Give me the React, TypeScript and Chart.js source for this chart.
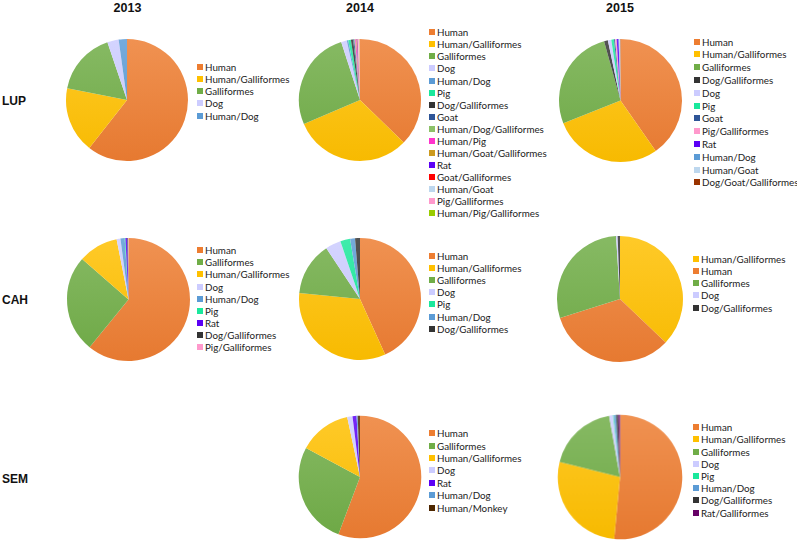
import React, { useEffect, useRef } from "react";
import { Chart, registerables } from "chart.js";

Chart.register(...registerables);

// ---------- colours per category ----------
const CATEGORY_COLORS: Record<string, string> = {
  "Human": "#ED7D31",
  "Human/Galliformes": "#FFC000",
  "Galliformes": "#70AD47",
  "Dog": "#CCCCFF",
  "Human/Dog": "#5B9BD5",
  "Pig": "#1AE89C",
  "Dog/Galliformes": "#333333",
  "Goat": "#2E5597",
  "Human/Dog/Galliformes": "#8CC168",
  "Human/Pig": "#FF33CC",
  "Human/Goat/Galliformes": "#CC9A1E",
  "Rat": "#5B00F5",
  "Goat/Galliformes": "#FF0000",
  "Human/Goat": "#BDD7EE",
  "Pig/Galliformes": "#FF99CC",
  "Human/Pig/Galliformes": "#99CC00",
  "Dog/Goat/Galliformes": "#993300",
  "Human/Monkey": "#4D2600",
  "Rat/Galliformes": "#660066",
};

// ---------- headers ----------
const yearLabels = ["2013", "2014", "2015"];
const siteLabels = ["LUP", "CAH", "SEM"];

// ---------- data ----------
const lup2013Labels = ["Human", "Human/Galliformes", "Galliformes", "Dog", "Human/Dog"];
const lup2013Values = [60.6, 17.5, 16.7, 3.0, 2.2];

const lup2014Labels = [
  "Human", "Human/Galliformes", "Galliformes", "Dog", "Human/Dog", "Pig",
  "Dog/Galliformes", "Goat", "Human/Dog/Galliformes", "Human/Pig",
  "Human/Goat/Galliformes", "Rat", "Goat/Galliformes", "Human/Goat",
  "Pig/Galliformes", "Human/Pig/Galliformes",
];
const lup2014Values = [37.4, 31.4, 26.5, 1.5, 0.4, 0.7, 0.6, 0.3, 0.2, 0.3, 0.15, 0.15, 0.1, 0.1, 0.4, 0.1];

const lup2015Labels = [
  "Human", "Human/Galliformes", "Galliformes", "Dog/Galliformes", "Dog", "Pig",
  "Goat", "Pig/Galliformes", "Rat", "Human/Dog", "Human/Goat", "Dog/Goat/Galliformes",
];
const lup2015Values = [40.3, 28.7, 26.7, 1.0, 0.9, 0.7, 0.3, 0.4, 0.5, 0.2, 0.2, 0.1];

const cah2013Labels = [
  "Human", "Galliformes", "Human/Galliformes", "Dog", "Human/Dog", "Pig", "Rat",
  "Dog/Galliformes", "Pig/Galliformes",
];
const cah2013Values = [60.9, 25.5, 10.5, 1.0, 1.1, 0.2, 0.5, 0.2, 0.1];

const cah2014Labels = ["Human", "Human/Galliformes", "Galliformes", "Dog", "Pig", "Human/Dog", "Dog/Galliformes"];
const cah2014Values = [43.2, 33.3, 14.1, 4.1, 2.6, 1.3, 1.3];

const cah2015Labels = ["Human/Galliformes", "Human", "Galliformes", "Dog", "Dog/Galliformes"];
const cah2015Values = [37.1, 33.0, 28.9, 0.4, 0.6];

const sem2014Labels = ["Human", "Galliformes", "Human/Galliformes", "Dog", "Rat", "Human/Dog", "Human/Monkey"];
const sem2014Values = [55.7, 27.1, 13.8, 1.4, 1.05, 0.3, 0.6];

const sem2015Labels = [
  "Human", "Human/Galliformes", "Galliformes", "Dog", "Pig", "Human/Dog",
  "Dog/Galliformes", "Rat/Galliformes",
];
const sem2015Values = [51.5, 27.4, 18.3, 1.0, 0.2, 0.6, 0.5, 0.5];

// ---------- helpers ----------
function mix(hex: string, target: number, amt: number): string {
  const n = parseInt(hex.slice(1), 16);
  const r = (n >> 16) & 255, g = (n >> 8) & 255, b = n & 255;
  const f = (c: number) => Math.round(c + (target - c) * amt);
  return `rgb(${f(r)},${f(g)},${f(b)})`;
}

type PieProps = {
  labels: string[];
  values: number[];
  cx: number;
  cy: number;
  r: number;
};

function Pie({ labels, values, cx, cy, r }: PieProps) {
  const ref = useRef<HTMLCanvasElement | null>(null);
  const size = 2 * r + 4;
  useEffect(() => {
    if (!ref.current) return;
    const base = labels.map((l) => CATEGORY_COLORS[l] || "#999999");
    const chart = new Chart(ref.current, {
      type: "pie",
      data: {
        labels,
        datasets: [
          {
            data: values,
            backgroundColor: (c: any) => {
              const col = base[c.dataIndex] || "#999";
              const area = c.chart.chartArea;
              if (!area) return col;
              const g = c.chart.ctx.createLinearGradient(0, area.top, 0, area.bottom);
              g.addColorStop(0, mix(col, 255, 0.16));
              g.addColorStop(1, mix(col, 0, 0.03));
              return g;
            },
            borderWidth: 0,
            hoverOffset: 0,
          },
        ],
      },
      options: {
        responsive: false,
        animation: false,
        events: [],
        radius: r,
        layout: { padding: 0 },
        plugins: { legend: { display: false }, tooltip: { enabled: false } },
      } as any,
    });
    return () => chart.destroy();
  }, []);
  return (
    <canvas
      ref={ref}
      width={size}
      height={size}
      style={{ position: "absolute", left: cx - size / 2, top: cy - size / 2, width: size, height: size }}
    />
  );
}

type LegendProps = { labels: string[]; x: number; y0: number; step: number };

function Legend({ labels, x, y0, step }: LegendProps) {
  return (
    <div style={{ position: "absolute", left: x, top: y0 - step / 2 }}>
      {labels.map((l) => (
        <div
          key={l}
          style={{
            height: step,
            display: "flex",
            alignItems: "center",
            whiteSpace: "nowrap",
            fontFamily: "Lato, 'Open Sans', sans-serif",
            fontSize: 9.8,
            color: "#222",
          }}
        >
          <span style={{ width: 6, height: 6, background: CATEGORY_COLORS[l], marginRight: 2, flex: "none" }} />
          <span>{l}</span>
        </div>
      ))}
    </div>
  );
}

const boldText: React.CSSProperties = {
  position: "absolute",
  fontFamily: "'Liberation Sans', Arial, sans-serif",
  fontWeight: "bold",
  color: "#111",
  whiteSpace: "nowrap",
};

export default function App() {
  const colX = [127.5, 360, 620];
  return (
    <div style={{ position: "absolute", left: 0, top: 0, width: 797, height: 541, background: "#fff", overflow: "hidden" }}>
      {yearLabels.map((y, i) => (
        <div key={y} style={{ ...boldText, fontSize: 12.5, lineHeight: "12.5px", top: 2.4, left: colX[i] - 30, width: 60, textAlign: "center" }}>
          {y}
        </div>
      ))}
      {siteLabels.map((s, i) => (
        <div key={s} style={{ ...boldText, fontSize: 12, lineHeight: "12px", left: 2, top: [101, 300, 479][i] - 6.1 }}>
          {s}
        </div>
      ))}

      <Pie labels={lup2013Labels} values={lup2013Values} cx={127} cy={100} r={61} />
      <Legend labels={lup2013Labels} x={197} y0={66.7} step={12.25} />

      <Pie labels={lup2014Labels} values={lup2014Values} cx={360} cy={100} r={61} />
      <Legend labels={lup2014Labels} x={429} y0={32.3} step={12.07} />

      <Pie labels={lup2015Labels} values={lup2015Values} cx={620} cy={100} r={61.5} />
      <Legend labels={lup2015Labels} x={694} y0={41.7} step={12.8} />

      <Pie labels={cah2013Labels} values={cah2013Values} cx={128} cy={299} r={61.5} />
      <Legend labels={cah2013Labels} x={197} y0={250} step={12.2} />

      <Pie labels={cah2014Labels} values={cah2014Values} cx={360} cy={299} r={61} />
      <Legend labels={cah2014Labels} x={429} y0={255.7} step={12.2} />

      <Pie labels={cah2015Labels} values={cah2015Values} cx={620} cy={299} r={63} />
      <Legend labels={cah2015Labels} x={693} y0={259} step={12.15} />

      <Pie labels={sem2014Labels} values={sem2014Values} cx={360} cy={477} r={61.3} />
      <Legend labels={sem2014Labels} x={429} y0={433.3} step={12.4} />

      <Pie labels={sem2015Labels} values={sem2015Values} cx={620} cy={477} r={61.8} />
      <Legend labels={sem2015Labels} x={693} y0={427.3} step={12.2} />
    </div>
  );
}
